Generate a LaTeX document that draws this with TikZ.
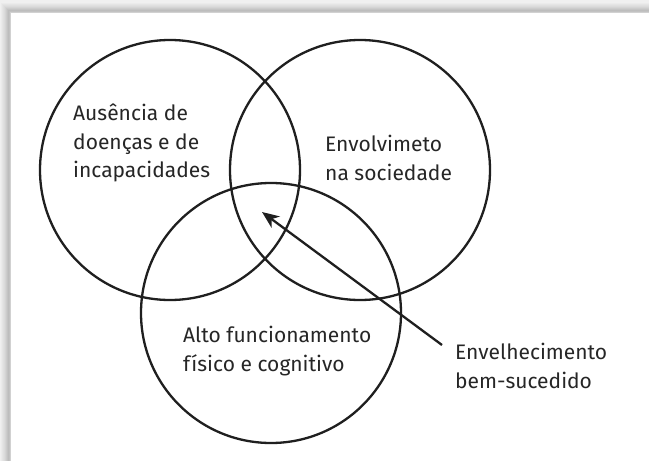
\documentclass[tikz,border=0pt]{standalone}
\usepackage{fontspec}
\setmainfont{Fira Sans}
\usetikzlibrary{arrows.meta}
\begin{document}
\begin{tikzpicture}[x=1pt,y=-1pt,
  ring/.style={draw=black!88,line width=2.3pt},
  lbl/.style={align=left,inner sep=0pt,anchor=west,text=black!85,font=\fontsize{21}{28.5}\selectfont},
  pointer/.style={draw=black!88,line width=2.3pt,-{Stealth[length=17pt,width=14pt,inset=5pt]}}]
\useasboundingbox (0,0) rectangle (649,461);
\fill[black!6] (0,0) rectangle (649,461);
\foreach \i/\c in {0/8,1/10,2/12,3/14,4/17,5/20,6/23,7/26,8/24,9/18}{
  \fill[black!\c] (\i+1,\i+3) rectangle (649,461);
}
\fill[white] (11,13) rectangle (649,461);
\node[ring,circle,minimum size=260pt,inner sep=0pt] (left) at (170,170) {};
\node[ring,circle,minimum size=260pt,inner sep=0pt] (right) at (360,170) {};
\node[ring,circle,minimum size=260pt,inner sep=0pt] (bottom) at (271,313) {};
\node[lbl] (ta) at (73,143) {Ausência de\\doenças e de\\incapacidades};
\node[lbl] (tb) at (325,158) {Envolvimeto\\na sociedade};
\node[lbl] (tc) at (183,351) {Alto funcionamento\\físico e cognitivo};
\node[lbl] (td) at (455,366) {Envelhecimento\\bem-sucedido};
\coordinate (tail) at (442,345);
\coordinate (tip) at (262,212);
\draw[pointer] (tail) -- (tip);
\end{tikzpicture}
\end{document}
